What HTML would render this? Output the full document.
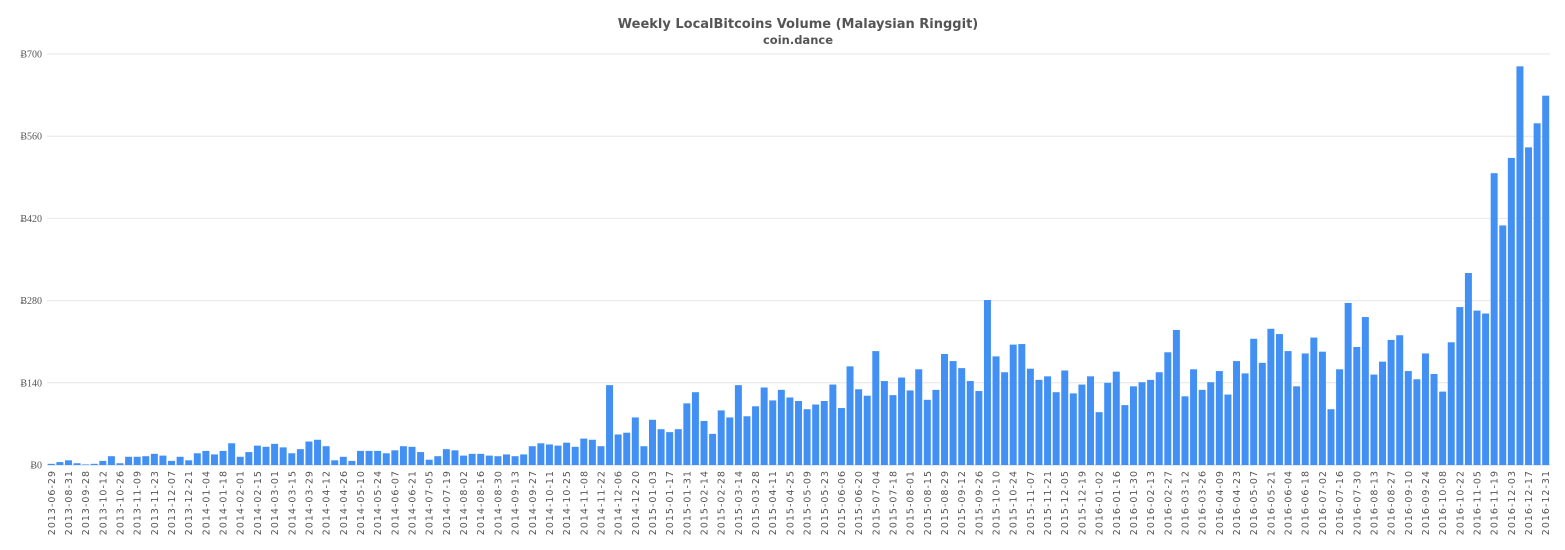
<!DOCTYPE html>
<html><head><meta charset="utf-8"><style>
html,body{margin:0;padding:0;background:#fff;}
svg{display:block;}
</style></head><body>
<svg id="chart" width="1565" height="550" xmlns="http://www.w3.org/2000/svg">
<text x="798" y="28" text-anchor="middle" font-family="DejaVu Sans, Liberation Sans, sans-serif" font-weight="bold" font-size="13" fill="#555">Weekly LocalBitcoins Volume (Malaysian Ringgit)</text>
<text x="798" y="44" text-anchor="middle" font-family="DejaVu Sans, Liberation Sans, sans-serif" font-weight="bold" font-size="11.5" fill="#555">coin.dance</text>
<g id="grid"></g>
<g id="bars"></g>
<g id="xlabels"></g>
</svg>
<script>
const values = [2,5,8,3,1,2,7,15,3,14,14,15,19,16,7,14,8,20,24,18,24,37,14,22,33,31,36,30,20,27,40,43,32,8,14,7,24,24,24,20,25,
32,31,22,9,15,27,25,16,19,19,16,15,18,15,18,32,37,35,33,38,31,45,43,32,136,52,55,81,32,77,61,56,61,105,124,75,53,93,81,136,83,100,132,110,128,115,109,
95,103,109,137,97,168,129,118,194,143,119,149,127,163,111,128,189,177,165,143,126,281,185,158,205,206,164,145,151,124,161,122,137,151,90,140,159,102,134,141,145,158,192,230,117,
163,128,141,160,120,177,156,215,174,232,223,194,134,190,217,193,95,163,276,201,252,154,176,213,221,160,146,190,155,125,209,269,327,263,258,497,408,523,679,541,582,629];
const firstDates = ["2013-06-29","2013-08-17","2013-08-31","2013-09-14"];
const weeklyStart = "2013-09-28";
const yTicks = [0,140,280,420,560,700];

const X0 = 47, X1 = 1550, Y0 = 465, Y1 = 54, YMAX = 700;
const categories = firstDates.slice();
(function(){
  let d = new Date(weeklyStart + "T00:00:00Z");
  while (categories.length < values.length) {
    categories.push(d.toISOString().slice(0,10));
    d = new Date(d.getTime() + 7*86400000);
  }
})();
const step = (X1 - X0) / values.length;
function xPos(i){ return X0 + step * i; }
function yPos(v){ return Y0 - (v / YMAX) * (Y0 - Y1); }
const NS = "http://www.w3.org/2000/svg";
const grid = document.getElementById('grid');
yTicks.forEach(t => {
  const l = document.createElementNS(NS,'line');
  
  
  l.setAttribute('x1',X0); l.setAttribute('x2',X1);
  l.setAttribute('y1',yPos(t)); l.setAttribute('y2',yPos(t));
  l.setAttribute('stroke', t===0 ? '#ccd6eb' : '#e6e6e6'); l.setAttribute('stroke-width','1');
  grid.appendChild(l);
  const tx = document.createElementNS(NS,'text');
  
  
  tx.setAttribute('x',42); tx.setAttribute('y',yPos(t)+3.5);
  tx.setAttribute('text-anchor','end');
  tx.setAttribute('font-family','Liberation Serif, serif');
  tx.setAttribute('font-size','10'); tx.setAttribute('fill','#555');
  tx.textContent = 'Ƀ' + t;
  grid.appendChild(tx);
});
const bars = document.getElementById('bars');
const xl = document.getElementById('xlabels');
values.forEach((v,i) => {
  const r = document.createElementNS(NS,'rect');
  
  
  const y = yPos(v);
  r.setAttribute('x', xPos(i) + 0.8);
  r.setAttribute('y', y);
  r.setAttribute('width', step - 1.6);
  r.setAttribute('height', Y0 - y);
  r.setAttribute('fill','#4390f5');
  bars.appendChild(r);
  if (i % 2 === 0) {
    const t = document.createElementNS(NS,'text');
    
    
    const cx = xPos(i) + step/2 + 3.5, cy = 470;
    t.setAttribute('x', cx); t.setAttribute('y', cy);
    t.setAttribute('transform','rotate(-90 ' + cx + ' ' + cy + ')');
    t.setAttribute('text-anchor','end');
    t.setAttribute('font-family','DejaVu Sans, Liberation Sans, sans-serif');
    t.setAttribute('font-size','9.5'); t.setAttribute('fill','#555');
    t.setAttribute('letter-spacing','1');
    t.textContent = categories[i];
    xl.appendChild(t);
  }
});
</script>
</body></html>
